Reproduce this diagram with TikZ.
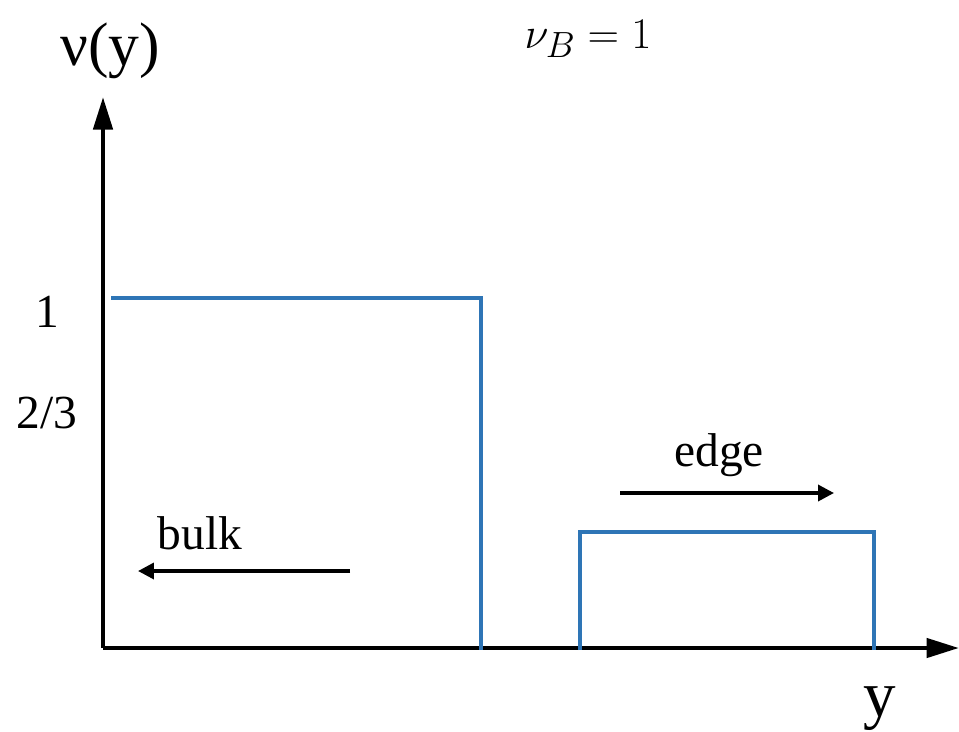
\documentclass[tikz,border=0pt]{standalone}
\usepackage{fontspec}
\setmainfont{Liberation Serif}
\usetikzlibrary{arrows.meta,positioning}

\definecolor{plotblue}{RGB}{46,117,182}

\begin{document}
\begin{tikzpicture}[x=0.02cm, y=-0.02cm,
    axis/.style={line width=2.6pt, -{Triangle[length=0.65cm, width=0.38cm]}},
    flow/.style={line width=2pt, -{Triangle[length=0.32cm, width=0.32cm]}},
    level/.style={plotblue, line width=2.2pt},
    lbl/.style={anchor=base, inner sep=0pt, font=\fontsize{27}{30}\selectfont}]
  \useasboundingbox (0,0) rectangle (959,731);

  % axes
  \coordinate (O) at (103,648);
  \coordinate (Ytop) at (103,97);
  \coordinate (Xend) at (959,648);
  \draw[axis] (O) -- (Ytop);
  \draw[axis] (O) -- (Xend);

  % filling profile
  \draw[level] (111,298) -- (481,298) -- (481,650);
  \draw[level] (580,650) -- (580,532) -- (874,532) -- (874,650);

  % labels
  \node[lbl, font=\fontsize{35}{40}\selectfont] (nu) at (110,65) {ν(y)};
  \node[lbl, font=\fontsize{31}{34}\selectfont] (nuB) at (588,48) {$\nu_B = 1$};
  \node[lbl] (one) at (47,327) {1};
  \node[lbl] (twothirds) at (47,428) {2/3};
  \node[lbl] (edge) at (719,466) {edge};
  \node[lbl] (bulk) at (200,549) {bulk};
  \node[lbl, font=\fontsize{37}{40}\selectfont] (y) at (880,716) {y};

  % flow arrows
  \coordinate (edgeA) at (620,493);
  \coordinate (edgeB) at (834,493);
  \coordinate (bulkA) at (350,571);
  \coordinate (bulkB) at (138,571);
  \draw[flow] (edgeA) -- (edgeB);
  \draw[flow] (bulkA) -- (bulkB);
\end{tikzpicture}
\end{document}
